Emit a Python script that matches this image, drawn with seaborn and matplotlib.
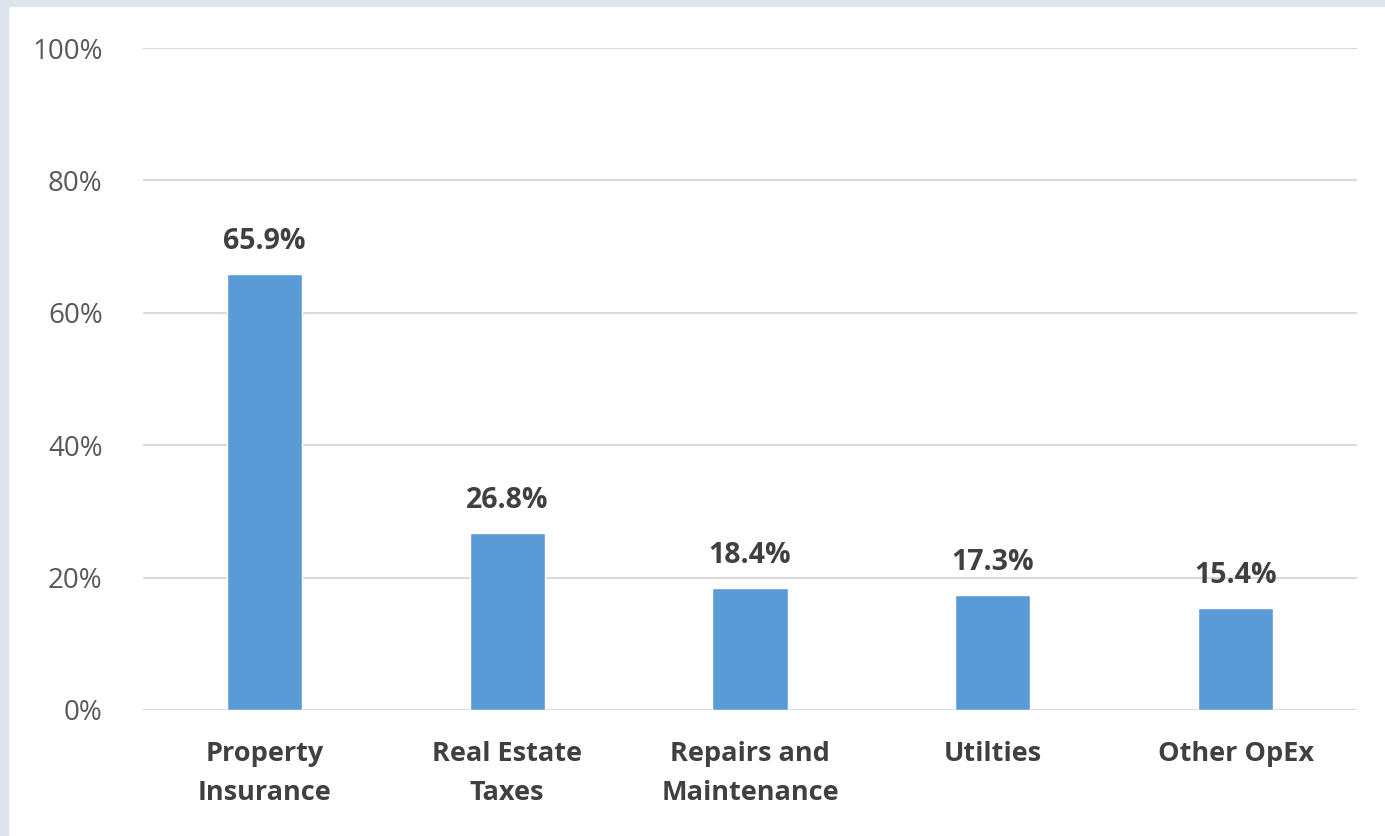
import matplotlib
matplotlib.use("Agg")
import matplotlib.pyplot as plt
import seaborn as sns
import pandas as pd
from matplotlib.patches import Rectangle

categories = ["Property\nInsurance", "Real Estate\nTaxes", "Repairs and\nMaintenance", "Utilties", "Other OpEx"]
values = [65.9, 26.8, 18.4, 17.3, 15.4]
yticks = [0, 20, 40, 60, 80, 100]
ytick_labels = ["0%", "20%", "40%", "60%", "80%", "100%"]

sns.set_theme(style="white")
plt.rcParams["font.family"] = ["Open Sans", "DejaVu Sans"]

df = pd.DataFrame({"cat": categories, "val": values})

fig = plt.figure(figsize=(13.85, 8.36), dpi=100)
fig.patch.set_facecolor("white")
# light border on the left and top
fig.patches.append(Rectangle((0, 0), 8/1385, 1, transform=fig.transFigure, color="#dce6ec", zorder=0))
fig.patches.append(Rectangle((0, 1 - 6/836), 1, 6/836, transform=fig.transFigure, color="#dce6ec", zorder=0))

ax = fig.add_axes([143/1385, (836-710)/836, (1357-143)/1385, (710-48)/836])
sns.barplot(data=df, x="cat", y="val", color="#5b9bd5", width=0.31, saturation=1, ax=ax, zorder=3)

ax.set_xlim(-0.5, 4.5)
ax.set_ylim(0, 100)
ax.set_yticks(yticks)
ax.set_yticklabels(ytick_labels, fontsize=20, color="#595959")
ax.tick_params(axis="y", length=0, pad=29)
ax.tick_params(axis="x", length=0, pad=22)
for lbl in ax.get_xticklabels():
    lbl.set_fontsize(19.5)
    lbl.set_fontweight("bold")
    lbl.set_color("#404040")
    lbl.set_linespacing(1.65)
ax.set_xlabel("")
ax.set_ylabel("")
ax.grid(axis="y", color="#d9d9d9", linewidth=1.5, zorder=0)
ax.set_axisbelow(True)
for s in ax.spines.values():
    s.set_visible(False)
ax.axhline(0, color="#d9d9d9", linewidth=1.5, zorder=1)

for i, v in enumerate(values):
    ax.annotate(f"{v:.1f}%", (i, v), xytext=(0, 13), textcoords="offset points",
                ha="center", va="bottom", fontsize=20.5, fontweight="bold", color="#404040", zorder=5)

fig.savefig("out.png", dpi=100, facecolor=fig.get_facecolor())
